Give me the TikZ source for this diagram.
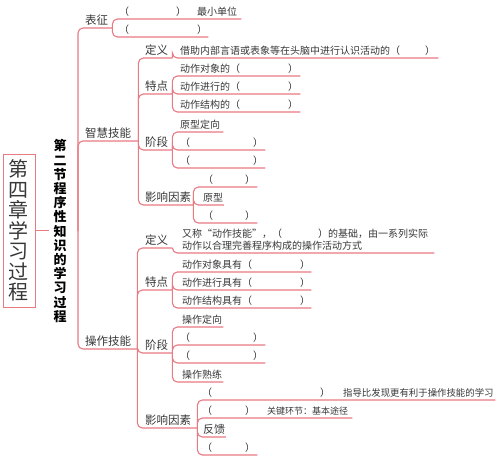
\documentclass[tikz,border=0pt]{standalone}
\usepackage{fontspec}
\setmainfont{Noto Sans CJK SC}
\definecolor{lc}{RGB}{232,122,130}
\definecolor{tc}{RGB}{55,55,55}
\tikzset{
  link/.style={draw=lc, line width=1.1pt, rounded corners=5pt},
  leaf/.style={anchor=south west, inner xsep=0pt, inner ysep=3pt, text depth=0pt,
    align=left, font=\fontsize{10}{12}\selectfont, text=tc},
  para/.style={anchor=south west, inner xsep=0pt, inner ysep=3pt, text depth=0pt,
    font=\fontsize{10}{12}\selectfont, text=tc},
  lab/.style={leaf, font=\fontsize{11.5}{13}\selectfont},
}
\begin{document}
\begin{tikzpicture}[x=1pt,y=-1pt]
\useasboundingbox (0,0) rectangle (499,461);
% title and section
\node[draw=lc, line width=0.9pt, minimum width=32pt, minimum height=153pt, inner sep=0pt,
  align=center, font=\fontsize{20}{20.5}\selectfont, text=tc] (title) at (19,230.5)
  {第\\四\\章\\学\\习\\过\\程};
\node[align=center, inner xsep=4pt, font=\fontsize{13}{14.2}\selectfont\bfseries, text=black]
  (sec) at (60,231) {第\\二\\节\\程\\序\\性\\知\\识\\的\\学\\习\\过\\程};
\coordinate (hub) at (78,231);
\draw[link] (title.east) -- (title.east -| sec.west);
% level 1
\node[lab, text width=27pt] (bz) at (85,28) {表征};
\node[lab, text width=53pt] (zh) at (85,141) {智慧技能};
\node[lab, text width=52pt] (cz) at (85,349) {操作技能};
\draw[link] (hub) |- (bz.south east);
\draw[link] (hub) |- (zh.south east);
\draw[link] (hub) |- (cz.south east);
% biaozheng
\node[leaf, text width=122pt] (b1) at (119,19) {（\hspace{47pt}）\hspace{11pt}最小单位};
\node[leaf, text width=89pt] (b2) at (119,37) {（\hspace{68pt}）};
\draw[link] (bz.south east) |- (b1.south east);
\draw[link] (bz.south east) |- (b2.south east);
% zhihui jineng
\node[lab, text width=27pt] (z1) at (145,58) {定义};
\node[leaf, text width=258pt] (z1a) at (180,58) {借助内部言语或表象等在头脑中进行认识活动的（\hspace{25pt}）};
\node[lab, text width=27pt] (z2) at (145,94) {特点};
\node[leaf, text width=120pt] (z2a) at (180,76) {动作对象的（\hspace{48pt}）};
\node[leaf, text width=120pt] (z2b) at (180,94) {动作进行的（\hspace{48pt}）};
\node[leaf, text width=120pt] (z2c) at (180,112) {动作结构的（\hspace{48pt}）};
\node[lab, text width=27pt] (z3) at (145,150) {阶段};
\node[leaf, text width=43pt] (z3a) at (180,132) {原型定向};
\node[leaf, text width=85pt] (z3b) at (180,150) {（\hspace{63pt}）};
\node[leaf, text width=85pt] (z3c) at (180,168) {（\hspace{63pt}）};
\node[lab, text width=48pt] (z4) at (145,205) {影响因素};
\node[leaf, text width=54pt] (z4a) at (203,187) {（\hspace{32pt}）};
\node[leaf, text width=20.5pt] (z4b) at (203,205) {原型};
\node[leaf, text width=54pt] (z4c) at (203,223) {（\hspace{32pt}）};
\foreach \c in {z1,z2,z3,z4} \draw[link] (zh.south east) |- (\c.south east);
\draw[link] (z1.south east) |- (z1a.south east);
\foreach \c in {z2a,z2b,z2c} \draw[link] (z2.south east) |- (\c.south east);
\foreach \c in {z3a,z3b,z3c} \draw[link] (z3.south east) |- (\c.south east);
\foreach \c in {z4a,z4b,z4c} \draw[link] (z4.south east) |- (\c.south east);
% caozuo jineng
\node[lab, text width=27pt] (c1) at (145,248) {定义};
\node[para] (c1a) at (182,253) {\parbox[b]{252pt}{又称“动作技能”，（\hspace{36pt}）的基础，由一系列实际\\动作以合理完善程序构成的操作活动方式}};
\node[lab, text width=27pt] (c2) at (145,290) {特点};
\node[leaf, text width=129pt] (c2a) at (182,272) {动作对象具有（\hspace{48pt}）};
\node[leaf, text width=129pt] (c2b) at (182,290) {动作进行具有（\hspace{48pt}）};
\node[leaf, text width=129pt] (c2c) at (182,308) {动作结构具有（\hspace{48pt}）};
\node[lab, text width=27pt] (c3) at (145,353) {阶段};
\node[leaf, text width=41pt] (c3a) at (182,327) {操作定向};
\node[leaf, text width=85pt] (c3b) at (180,345) {（\hspace{63pt}）};
\node[leaf, text width=85pt] (c3c) at (180,363) {（\hspace{63pt}）};
\node[leaf, text width=41pt] (c3d) at (182,382) {操作熟练};
\node[lab, text width=52pt] (c4) at (145,428) {影响因素};
\node[leaf, text width=293pt] (c4a) at (202,400) {（\hspace{108pt}）\hspace{13pt}{\fontsize{9.4}{11}\selectfont 指导比发现更有利于操作技能的学习}};
\node[leaf, text width=150pt] (c4b) at (202,418) {（\hspace{33pt}）\hspace{12pt}{\fontsize{9}{11}\selectfont 关键环节：基本途径}};
\node[leaf, font=\fontsize{11}{13}\selectfont, text width=22.5pt] (c4c) at (203,437) {反馈};
\node[leaf, text width=55pt] (c4d) at (202,455) {（\hspace{33pt}）};
\foreach \c in {c1,c2,c3,c4} \draw[link] (cz.south east) |- (\c.south east);
\draw[link] (c1.south east) |- (c1a.south east);
\foreach \c in {c2a,c2b,c2c} \draw[link] (c2.south east) |- (\c.south east);
\foreach \c in {c3a,c3b,c3c,c3d} \draw[link] (c3.south east) |- (\c.south east);
\foreach \c in {c4a,c4b,c4c,c4d} \draw[link] (c4.south east) |- (\c.south east);
\end{tikzpicture}
\end{document}
